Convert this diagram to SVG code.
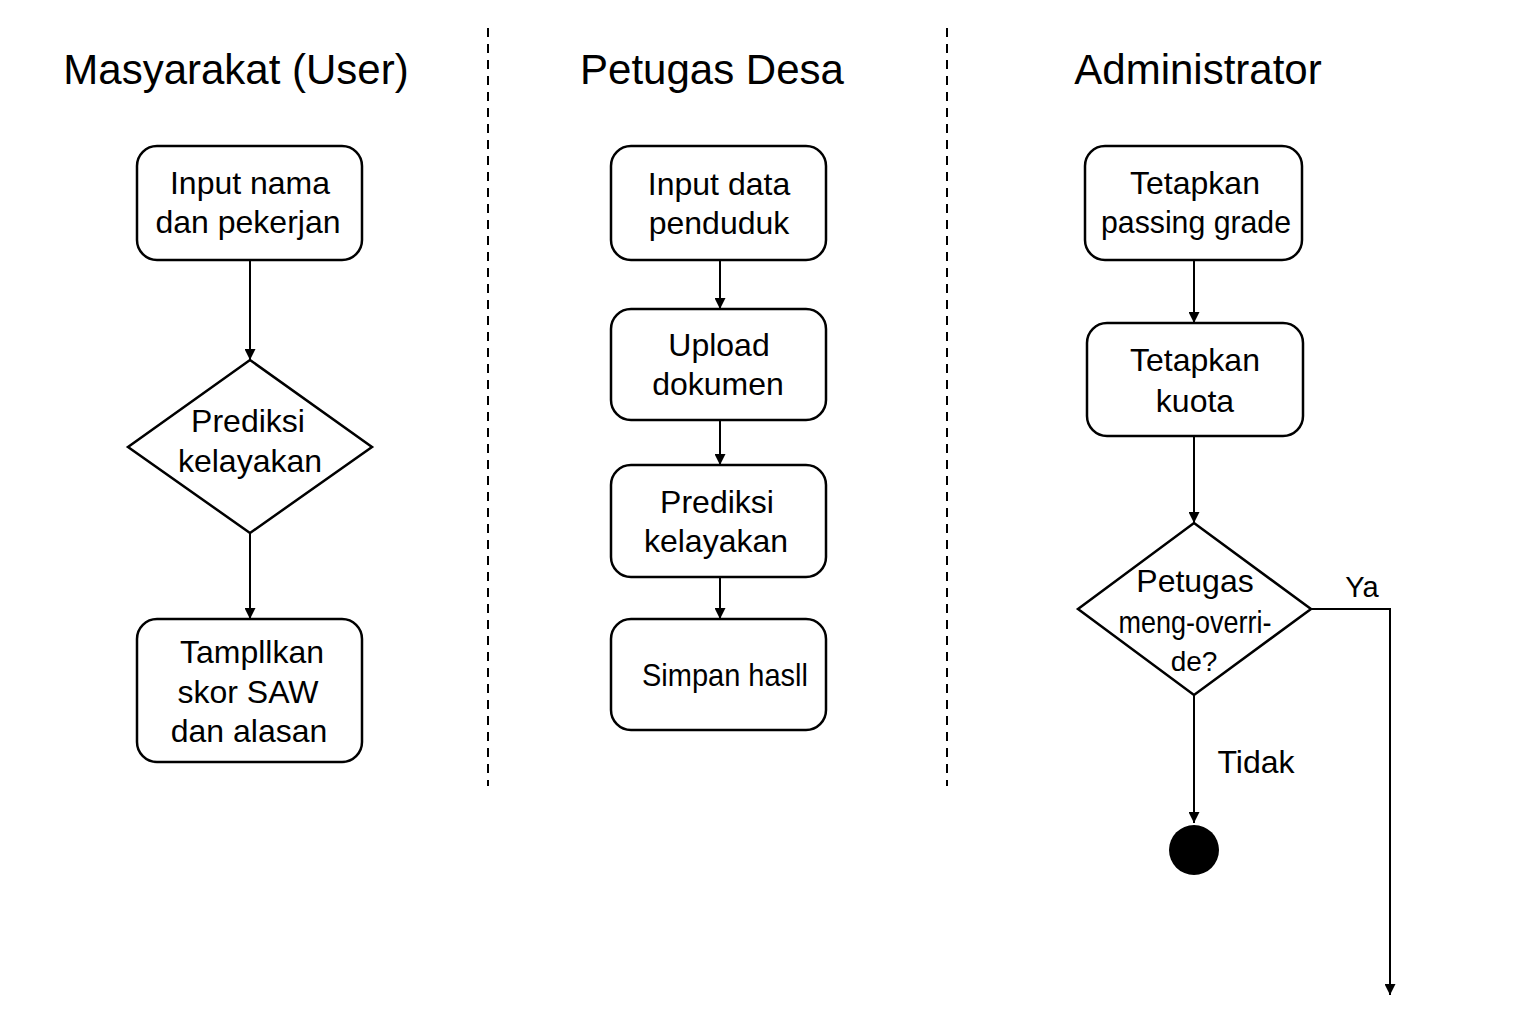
<svg xmlns="http://www.w3.org/2000/svg" width="1536" height="1024" viewBox="0 0 1536 1024">
<defs>
<style>
text{font-family:"Liberation Sans",Arial,sans-serif;fill:#000;text-anchor:middle}
.title{font-size:42px}
.t{font-size:32px}
.node{fill:#fff;stroke:#000;stroke-width:2.5}
.edge{fill:none;stroke:#000;stroke-width:2}
.lane{stroke:#000;stroke-width:2;stroke-dasharray:9,7}
</style>
<marker id="ah" viewBox="0 0 10 10" refX="10" refY="5" markerWidth="11" markerHeight="11" markerUnits="userSpaceOnUse" orient="auto">
<path d="M0,0 L10,5 L0,10 z" fill="#000"/>
</marker>
</defs>
<rect width="1536" height="1024" fill="#fff"/>
<g id="lanes">
<line class="lane" x1="488" y1="28" x2="488" y2="786"/>
<line class="lane" x1="947" y1="28" x2="947" y2="786"/>
<text class="title" x="236" y="84">Masyarakat (User)</text>
<text class="title" x="712" y="84">Petugas Desa</text>
<text class="title" x="1198" y="84">Administrator</text>
</g>
<g id="connectors">
<line class="edge" x1="250" y1="260" x2="250" y2="360" marker-end="url(#ah)"/>
<line class="edge" x1="250" y1="533" x2="250" y2="619" marker-end="url(#ah)"/>
<line class="edge" x1="720" y1="260" x2="720" y2="309" marker-end="url(#ah)"/>
<line class="edge" x1="720" y1="420" x2="720" y2="465" marker-end="url(#ah)"/>
<line class="edge" x1="720" y1="577" x2="720" y2="619" marker-end="url(#ah)"/>
<line class="edge" x1="1194" y1="260" x2="1194" y2="323" marker-end="url(#ah)"/>
<line class="edge" x1="1194" y1="436" x2="1194" y2="523" marker-end="url(#ah)"/>
<line class="edge" x1="1194" y1="695" x2="1194" y2="823" marker-end="url(#ah)"/>
<polyline class="edge" points="1311,609 1390,609 1390,995" marker-end="url(#ah)"/>
<text class="t" x="1362" y="597" style="font-size:29px">Ya</text>
<text class="t" x="1256" y="773">Tidak</text>
</g>
<g id="n1">
<rect class="node" x="137" y="146" width="225" height="114" rx="20"/>
<text class="t" x="250" y="194">Input nama</text>
<text class="t" x="248" y="233">dan pekerjan</text>
</g>
<g id="n2">
<polygon class="node" points="250,360 372,447 250,533 128,447"/>
<text class="t" x="248" y="432">Prediksi</text>
<text class="t" x="250" y="472">kelayakan</text>
</g>
<g id="n3">
<rect class="node" x="137" y="619" width="225" height="143" rx="20"/>
<text class="t" x="252" y="663">Tampllkan</text>
<text class="t" x="248" y="703">skor SAW</text>
<text class="t" x="249" y="742">dan alasan</text>
</g>
<g id="n4">
<rect class="node" x="611" y="146" width="215" height="114" rx="20"/>
<text class="t" x="719" y="195">Input data</text>
<text class="t" x="719" y="234">penduduk</text>
</g>
<g id="n5">
<rect class="node" x="611" y="309" width="215" height="111" rx="20"/>
<text class="t" x="719" y="356">Upload</text>
<text class="t" x="718" y="395">dokumen</text>
</g>
<g id="n6">
<rect class="node" x="611" y="465" width="215" height="112" rx="20"/>
<text class="t" x="717" y="513">Prediksi</text>
<text class="t" x="716" y="552">kelayakan</text>
</g>
<g id="n7">
<rect class="node" x="611" y="619" width="215" height="111" rx="20"/>
<text class="t" x="725" y="686" textLength="166" lengthAdjust="spacingAndGlyphs">Simpan hasll</text>
</g>
<g id="n8">
<rect class="node" x="1085" y="146" width="217" height="114" rx="20"/>
<text class="t" x="1195" y="194">Tetapkan</text>
<text class="t" x="1196" y="233" textLength="190" lengthAdjust="spacingAndGlyphs">passing grade</text>
</g>
<g id="n9">
<rect class="node" x="1087" y="323" width="216" height="113" rx="20"/>
<text class="t" x="1195" y="371">Tetapkan</text>
<text class="t" x="1195" y="412">kuota</text>
</g>
<g id="n10">
<polygon class="node" points="1194,523 1311,609 1194,695 1078,609"/>
<text class="t" x="1195" y="592">Petugas</text>
<text class="t" x="1195" y="633" textLength="153" lengthAdjust="spacingAndGlyphs">meng-overri-</text>
<text class="t" x="1194" y="671" style="font-size:28px">de?</text>
</g>
<g id="n11">
<circle cx="1194" cy="850" r="25" fill="#000"/>
</g>
</svg>
